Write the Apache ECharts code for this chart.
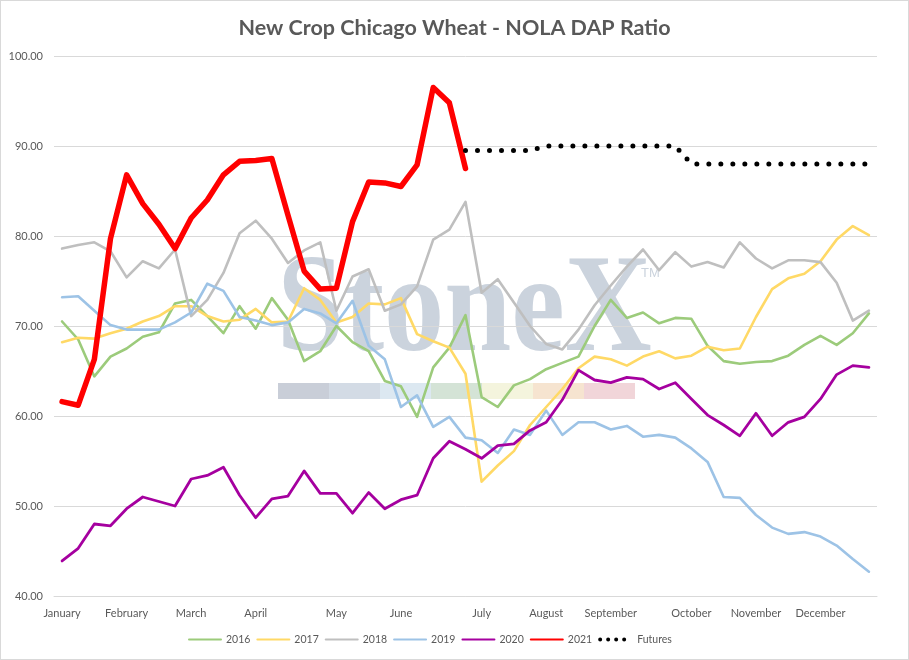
<!DOCTYPE html>
<html>
<head>
<meta charset="utf-8">
<script src="https://cdn.jsdelivr.net/npm/echarts@6/dist/echarts.min.js"></script>
<style>
html,body{margin:0;padding:0;background:#fff;}
#chart{width:909px;height:660px;box-sizing:border-box;border:1px solid #d9d9d9;}
</style>
</head>
<body>
<div id="chart"></div>
<script>
// 51 weekly categories
const weeks = [];
for (let i = 1; i <= 51; i++) weeks.push('W' + i);

// month tick labels (shown at the week where each month starts)
const monthLabels = ['January','','','','February','','','','March','','','','April','','','','','May','','','','June','','','','','July','','','','August','','','','September','','','','','October','','','','November','','','','December','','',''];

const s2016 = [70.5,68.5,64.4,66.6,67.5,68.8,69.3,72.5,72.9,71.1,69.2,72.2,69.7,73.1,70.7,66.1,67.2,70.0,68.2,67.2,63.9,63.3,59.9,65.4,67.6,71.2,62.1,61.0,63.4,64.1,65.2,65.9,66.6,70.0,72.9,70.9,71.5,70.3,70.9,70.8,67.8,66.1,65.8,66.0,66.1,66.7,67.9,68.9,67.9,69.2,71.4];
const s2017 = [68.2,68.7,68.6,69.2,69.7,70.5,71.1,72.2,72.2,71.1,70.5,70.7,71.9,70.4,70.5,74.2,72.9,70.4,71.0,72.5,72.4,73.1,69.1,68.3,67.6,64.7,52.7,54.5,56.1,59.0,61.0,63.0,65.3,66.6,66.3,65.6,66.6,67.2,66.4,66.7,67.7,67.3,67.5,71.0,74.1,75.3,75.8,77.2,79.6,81.1,80.1];
const s2018 = [78.6,79.0,79.3,78.3,75.4,77.2,76.4,78.5,71.1,72.9,75.9,80.3,81.7,79.7,77.0,78.4,79.3,71.7,75.5,76.3,71.7,72.4,74.4,79.6,80.7,83.8,73.7,75.2,72.6,70.0,68.0,67.4,69.6,72.3,74.5,76.6,78.5,76.2,78.2,76.6,77.1,76.5,79.3,77.5,76.4,77.3,77.3,77.1,74.8,70.6,71.7];
const s2019 = [73.2,73.3,71.7,70.1,69.6,69.6,69.6,70.4,71.5,74.7,73.9,71.0,70.6,70.1,70.4,71.9,71.4,70.3,72.8,67.8,66.3,61.0,62.3,58.8,59.9,57.6,57.3,55.9,58.5,57.9,60.6,57.9,59.3,59.3,58.5,58.9,57.7,57.9,57.6,56.4,54.9,51.0,50.9,49.0,47.6,46.9,47.1,46.6,45.6,44.1,42.7];
const s2020 = [43.9,45.3,48.0,47.8,49.7,51.0,50.5,50.0,53.0,53.4,54.3,51.2,48.7,50.8,51.1,53.9,51.4,51.4,49.2,51.5,49.7,50.7,51.2,55.3,57.2,56.3,55.3,56.7,56.9,58.4,59.3,61.8,65.1,64.0,63.7,64.3,64.1,63.0,63.7,61.9,60.1,59.0,57.8,60.3,57.8,59.3,59.9,61.9,64.6,65.6,65.4];
const s2021 = [61.6,61.2,66.3,79.7,86.8,83.6,81.3,78.6,82.0,84.0,86.8,88.3,88.4,88.6,82.3,76.1,74.1,74.2,81.6,86.0,85.9,85.5,87.9,96.5,94.8,87.5];
const futures = [null,null,null,null,null,null,null,null,null,null,null,null,null,null,null,null,null,null,null,null,null,null,null,null,null,89.5,89.5,89.5,89.5,89.5,90.0,90.0,90.0,90.0,90.0,90.0,90.0,90.0,90.0,88.0,88.0,88.0,88.0,88.0,88.0,88.0,88.0,88.0,88.0,88.0,88.0];

const FONT = 'Lato';
const chart = echarts.init(document.getElementById('chart'), null, {renderer: 'canvas'});

function lineSeries(name, data, color, width) {
  return {
    name: name, type: 'line', data: data, symbol: 'none', smooth: false,
    lineStyle: {color: color, width: width, join: 'round', cap: 'round'},
    itemStyle: {color: color},
    emphasis: {disabled: true}
  };
}

const wmColors = ['#c9ced8','#d3dbe5','#dce8f1','#d4e3d6','#f4f4dd','#f6e4d0','#f1d5d9'];
const graphics = [
  {type: 'text', x: 276, y: 243, scaleX: 0.86, z: 0, silent: true,
   style: {text: 'StoneX', fontFamily: 'Liberation Serif', fontWeight: 'bold', fontSize: 140, fill: '#cbd3dd', align: 'left', verticalAlign: 'top'}},
  {type: 'text', x: 640, y: 266, z: 0, silent: true,
   style: {text: 'TM', fontFamily: 'Liberation Sans', fontSize: 13, fill: '#cbd3dd'}}
];
wmColors.forEach(function (c, k) {
  graphics.push({type: 'rect', z: 0, silent: true, shape: {x: 277 + k * 51, y: 382, width: 51, height: 16}, style: {fill: c}});
});

chart.setOption({
  animation: false,
  backgroundColor: '#ffffff',
  title: {
    text: 'New Crop Chicago Wheat - NOLA DAP Ratio',
    left: 'center', top: 11,
    textStyle: {fontFamily: FONT, fontSize: 21.5, fontWeight: 'bold', color: '#595959'}
  },
  graphic: graphics,
  legend: {
    left: 182, top: 628, itemWidth: 32, itemHeight: 14, itemGap: 6,
    itemStyle: {opacity: 0},
    textStyle: {fontFamily: FONT, fontSize: 10.5, color: '#595959'},
    data: ['2016','2017','2018','2019','2020','2021',
      {name: 'Futures', lineStyle: {width: 4, type: [0, 8], cap: 'round'}}]
  },
  grid: {left: 53, right: 31, top: 55, bottom: 63},
  xAxis: {
    type: 'category', data: weeks, boundaryGap: true,
    axisLine: {show: true, lineStyle: {color: '#d9d9d9'}},
    axisTick: {show: false},
    axisLabel: {interval: 0, margin: 12, fontFamily: FONT, fontSize: 11, color: '#595959',
      formatter: function (v, i) { return monthLabels[i]; }}
  },
  yAxis: {
    type: 'value', min: 40, max: 100, interval: 10,
    axisLine: {show: false}, axisTick: {show: false},
    splitLine: {lineStyle: {color: '#d9d9d9', width: 1}},
    axisLabel: {margin: 11, fontFamily: FONT, fontSize: 11, color: '#595959',
      formatter: function (v) { return v.toFixed(2); }}
  },
  series: [
    lineSeries('2016', s2016, '#9ccb7b', 2.6),
    lineSeries('2017', s2017, '#ffd966', 2.6),
    lineSeries('2018', s2018, '#bfbfbf', 2.6),
    lineSeries('2019', s2019, '#9dc3e6', 2.6),
    lineSeries('2020', s2020, '#a5009f', 2.8),
    lineSeries('2021', s2021, '#ff0000', 5.5),
    {
      name: 'Futures', type: 'line', data: futures, symbol: 'none',
      lineStyle: {color: '#000000', width: 5, type: [0, 12], cap: 'round'},
      itemStyle: {color: '#000000'},
      emphasis: {disabled: true}
    }
  ]
});
</script>
</body>
</html>
